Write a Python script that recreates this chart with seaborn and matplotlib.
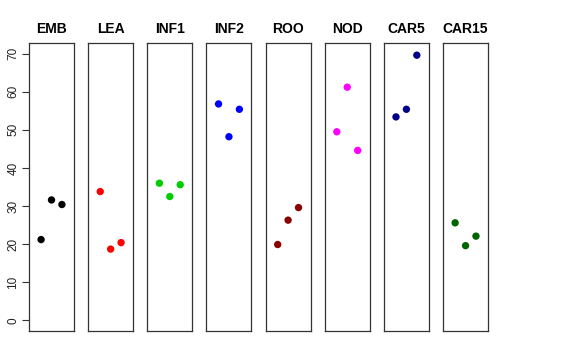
import pandas as pd
import matplotlib.pyplot as plt
import seaborn as sns

# ------------------------------------------------------------
# data
# ------------------------------------------------------------
tissues = ["EMB", "LEA", "INF1", "INF2", "ROO", "NOD", "CAR5", "CAR15"]
colors = ["black", "red", "#00CD00", "blue", "#8B0000", "magenta", "#00008B", "#006400"]
rep = [1, 2, 3]
emb = [21.2, 31.6, 30.4]
lea = [33.8, 18.7, 20.4]
inf1 = [36.0, 32.5, 35.6]
inf2 = [56.8, 48.2, 55.4]
roo = [19.9, 26.3, 29.6]
nod = [49.5, 61.2, 44.6]
car5 = [53.4, 55.4, 69.6]
car15 = [25.6, 19.6, 22.1]
values = [emb, lea, inf1, inf2, roo, nod, car5, car15]
yticks = [0, 10, 20, 30, 40, 50, 60, 70]

df = pd.DataFrame({
    "tissue": [t for t in tissues for _ in rep],
    "rep": rep * len(tissues),
    "value": [v for vals in values for v in vals],
})

# ------------------------------------------------------------
# plot
# ------------------------------------------------------------
sns.set_style("white")
plt.rcParams["font.family"] = ["Liberation Sans", "DejaVu Sans"]
plt.rcParams["text.color"] = "black"
plt.rcParams["axes.titlecolor"] = "black"

W, H = 576, 360
fig = plt.figure(figsize=(W / 100, H / 100), dpi=100)

left, step, pw = 29, 59.15, 45
top, bottom = 43, 331

for i, (t, c) in enumerate(zip(tissues, colors)):
    ax = fig.add_axes([(left + i * step) / W, (H - bottom) / H, pw / W, (bottom - top) / H])
    sub = df[df["tissue"] == t]
    sns.scatterplot(data=sub, x="rep", y="value", color=c, s=28,
                    edgecolor="none", ax=ax, legend=False)
    ax.set_xlim(-0.16, 4.16)
    ax.set_ylim(-2.8, 72.8)
    ax.set_xticks([])
    ax.set_xlabel("")
    ax.set_ylabel("")
    ax.set_title(t, fontsize=10, fontweight="bold", pad=7, color="black")
    for sp in ax.spines.values():
        sp.set_visible(True)
        sp.set_color("#333333")
        sp.set_linewidth(0.9)
    if i == 0:
        ax.set_yticks(yticks)
        ax.set_yticklabels([str(v) for v in yticks], rotation=90, va="center", fontsize=8.5)
        ax.tick_params(axis="y", left=True, length=5, width=0.8, color="#333333",
                       labelcolor="#222222", pad=2)
    else:
        ax.set_yticks([])

fig.savefig("out.png", dpi=100)
